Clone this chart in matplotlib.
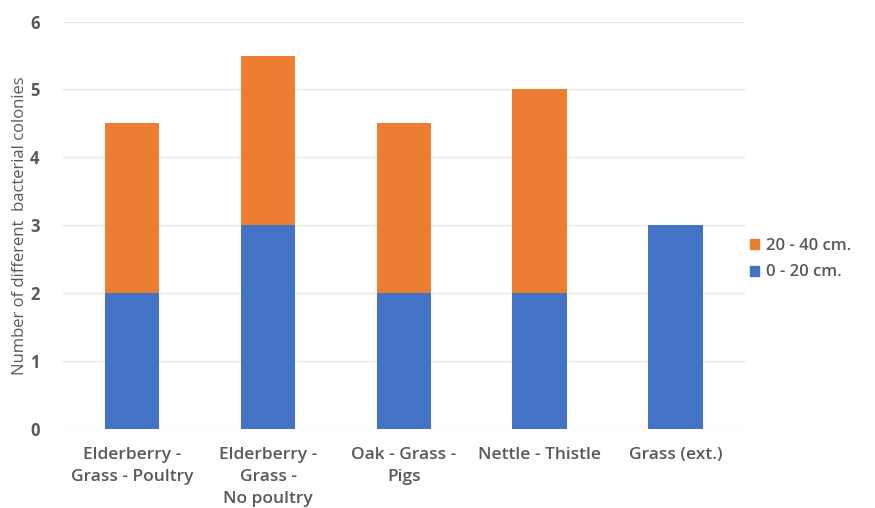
import numpy as np
import matplotlib.pyplot as plt
from matplotlib.patches import Patch

categories = ["Elderberry -\nGrass - Poultry", "Elderberry -\nGrass -\nNo poultry",
              "Oak - Grass -\nPigs", "Nettle - Thistle", "Grass (ext.)"]
depth_0_20 = [2, 3, 2, 2, 3]
depth_20_40 = [2.5, 2.5, 2.5, 3, 0]
series_labels = ["0 - 20 cm.", "20 - 40 cm."]

blue = "#4472C4"
orange = "#ED7D31"
text_col = "#595959"

plt.rcParams['font.family'] = ['Open Sans', 'DejaVu Sans']

fig = plt.figure(figsize=(8.75, 5.08), dpi=100)
ax = fig.add_axes([0.072, 0.1555, 0.779, 0.802])

x = np.arange(len(categories))
ax.bar(x, depth_0_20, width=0.40, color=blue, zorder=2)
ax.bar(x, depth_20_40, width=0.40, bottom=depth_0_20, color=orange, zorder=2)

ax.set_ylim(0, 6)
ax.set_xlim(-0.51, 4.51)
ax.set_yticks(range(0, 7))
ax.yaxis.grid(True, color="#e6e6e6", linewidth=1, zorder=0)
for s in ax.spines.values():
    s.set_visible(False)
ax.tick_params(length=0)
ax.tick_params(axis='y', pad=17, labelsize=12, labelcolor=text_col)
ax.tick_params(axis='x', pad=13, labelsize=12.5, labelcolor=text_col)
ax.set_xticks(x)
ax.set_xticklabels(categories, fontweight='semibold', linespacing=1.5)
for lab in ax.get_yticklabels():
    lab.set_fontweight('bold')
ax.set_ylabel("Number of different  bacterial colonies", fontsize=12, color=text_col, labelpad=1)

handles = [Patch(color=orange), Patch(color=blue)]
fig.legend(handles, [series_labels[1], series_labels[0]], loc='center left',
           bbox_to_anchor=(0.84, 0.49), frameon=False, handlelength=0.55, handleheight=0.55,
           handletextpad=0.4, labelspacing=0.65, prop={'size': 12, 'weight': 'semibold'},
           labelcolor=text_col)

fig.savefig("out.png", dpi=100)
